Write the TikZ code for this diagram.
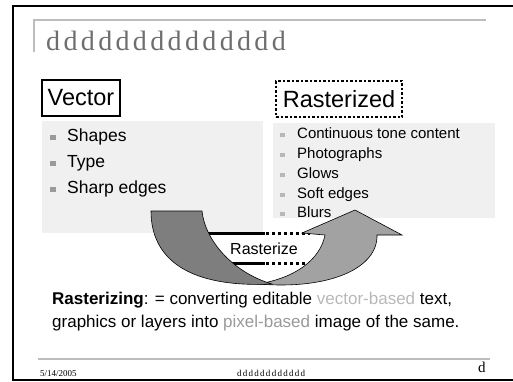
\documentclass[tikz,border=0pt]{standalone}
\usepackage{fontspec}
\setmainfont{Liberation Serif}
\newfontfamily\arial{Liberation Sans}
\newfontfamily\spaced[LetterSpace=12]{Liberation Serif}
\newfontfamily\spacedsmall[LetterSpace=14]{Liberation Serif}
\usetikzlibrary{positioning}
\definecolor{panelgray}{HTML}{F0F0F0}
\definecolor{rulegray}{HTML}{BDBDBD}
\definecolor{titlegray}{HTML}{6E6E6E}
\definecolor{bulgray}{HTML}{9A9A9A}
\definecolor{darkband}{HTML}{7E7E7E}
\definecolor{lightband}{HTML}{A2A2A2}
\definecolor{vecgray}{HTML}{B8B8B8}
\definecolor{pixgray}{HTML}{999999}
\newcommand{\bigsq}{\makebox[17pt][l]{\textcolor{bulgray}{\rule[1pt]{5.5pt}{5.5pt}}}}
\newcommand{\smallsq}{\makebox[17pt][l]{\textcolor{vecgray}{\rule[1pt]{4.5pt}{4.5pt}}}}
\tikzset{
  lab/.style={font=\arial\fontsize{17.5}{20}\selectfont, anchor=base west, inner sep=0pt},
  labsmall/.style={font=\arial\fontsize{15}{18}\selectfont, anchor=base west, inner sep=0pt},
  defn/.style={font=\arial\fontsize{17}{20}\selectfont, anchor=base west, inner sep=0pt},
  head/.style={font=\arial\fontsize{23.5}{26}\selectfont, inner sep=0pt, minimum height=36pt},
  foot/.style={font=\fontsize{9}{10}\selectfont, anchor=base west, inner sep=0pt},
  panel/.style={fill=panelgray, draw=none},
  boxSolid/.style={draw=black, line width=2.8pt},
  boxDotted/.style={draw=black, line width=2.8pt, dash pattern=on 2.5pt off 2pt},
  band/.style={draw=black, line width=0.6pt},
  edgeSolid/.style={line width=3pt},
  edgeDotted/.style={line width=3pt, dash pattern=on 3pt off 3pt}
}

\begin{document}
\begin{tikzpicture}[x=1pt,y=-1pt]
\useasboundingbox (0,0) rectangle (513,381);
% slide frame and title rules
\draw[line width=2pt] (513,6) -- (13,6) -- (13,379.5) -- (513,379.5);
\draw[rulegray, line width=1.5pt] (34,52) -- (34,20) -- (486,20);
\node[anchor=base west, inner sep=0pt, text=titlegray, font=\spaced\fontsize{28}{30}\selectfont] (title) at (46,50) {dddddddddddddd};

% headings
\node[head, boxSolid, minimum width=78pt] (vec) at (81,98) {Vector};
\node[head, boxDotted, minimum width=126pt] (ras) at (339,99) {Rasterized};

% gray panels
\fill[panel] (42,121) rectangle (263,233);
\fill[panel] (273,123) rectangle (495,218);

% left list
\node[lab] (shapes) at (50,141) {\bigsq Shapes};
\node[lab] (type) at (50,167) {\bigsq Type};
\node[lab] (sharp) at (50,193) {\bigsq Sharp edges};

% right list
\node[labsmall] (tone) at (280,138) {\smallsq Continuous tone content};
\node[labsmall] (photo) at (280,158) {\smallsq Photographs};
\node[labsmall] (glows) at (280,178) {\smallsq Glows};
\node[labsmall] (soft) at (280,198) {\smallsq Soft edges};
\node[labsmall] (blurs) at (280,217) {\smallsq Blurs};

% white box between the arms
\fill[white] (200,233) rectangle (310,263);
\draw[edgeSolid] (200,233) -- (265,233);
\draw[edgeDotted] (266,233) -- (310,233);
\draw[edgeSolid] (215,263) -- (265,263);
\draw[edgeDotted] (266,263) -- (305,263);
\node[font=\arial\fontsize{16}{18}\selectfont, inner sep=0pt] (rast) at (264,249) {Rasterize};

% curved arrow: light front band with head, dark back band
\filldraw[band, fill=lightband] (258,284) .. controls (330,290) and (378,268) .. (377,235)
  -- (402,235) -- (355,210) -- (302,233) -- (325,235)
  .. controls (320,260) and (295,278) .. (258,284) -- cycle;
\filldraw[band, fill=darkband] (151,211) -- (202,211) .. controls (205,240) and (232,272) .. (272,284)
  .. controls (190,288) and (151,260) .. (151,211) -- cycle;

% definition
\node[defn] (defa) at (52,304) {\textbf{Rasterizing}: = converting editable \textcolor{vecgray}{vector-based} text,};
\node[defn] (defb) at (52,327) {graphics or layers into \textcolor{pixgray}{pixel-based} image of the same.};

% footer
\draw[rulegray, line width=1.2pt] (38,359) -- (490,359);
\node[foot] (date) at (40,376) {5/14/2005};
\node[foot, font=\spacedsmall\fontsize{9}{10}\selectfont] (ftitle) at (237,376) {dddddddddddd};
\node[foot, font=\fontsize{15}{16}\selectfont] (page) at (478,372) {d};
\end{tikzpicture}
\end{document}
